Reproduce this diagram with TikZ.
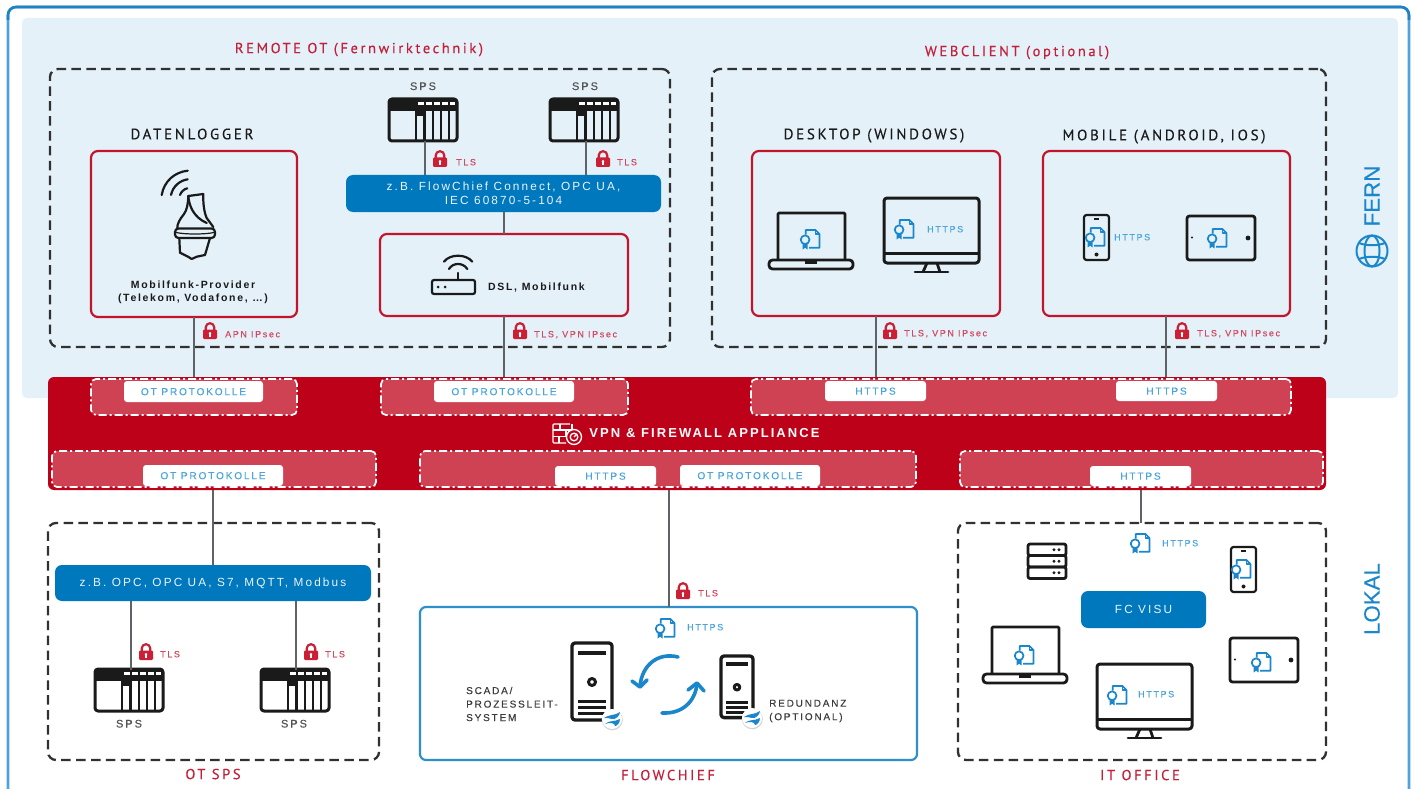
\documentclass[tikz,border=0pt]{standalone}
\usepackage{fontspec}
\setmainfont{Liberation Sans}
\newfontfamily\fsmall{Liberation Sans}[LetterSpace=18,FakeBold=0.3]
\newfontfamily\fplain{Liberation Sans}[LetterSpace=18]
\newfontfamily\fbold{Liberation Sans Bold}[LetterSpace=16]
\newfontfamily\fhdr{PT Sans}[LetterSpace=18,FakeBold=0.3]
\newfontfamily\fside{Liberation Sans}[FakeBold=0.2]
\usetikzlibrary{calc}
\definecolor{panel}{HTML}{E4F1F9}
\definecolor{framec}{HTML}{4FA3DA}
\definecolor{frametop}{HTML}{1F82C4}
\definecolor{flowc}{HTML}{2F8FCB}
\definecolor{bandred}{HTML}{BD0119}
\definecolor{zonered}{HTML}{CE4254}
\definecolor{boxred}{HTML}{C3142C}
\definecolor{titlered}{HTML}{C5203A}
\definecolor{smallred}{HTML}{D4475F}
\definecolor{lockred}{HTML}{CB1F35}
\definecolor{barblue}{HTML}{0078BD}
\definecolor{smallblue}{HTML}{4BA5DC}
\definecolor{certblue}{HTML}{1A86CB}
\definecolor{ink}{HTML}{1A1A1A}
\definecolor{conn}{HTML}{5F6367}
\tikzset{
 x=1pt,y=-1pt,
 box/.style={inner sep=0,outer sep=0,rectangle},
 dashbox/.style={box,draw=ink!90,line width=2.3pt,dash pattern=on 9.5pt off 5.4pt,rounded corners=8pt},
 redbox/.style={box,draw=boxred,line width=2.2pt,rounded corners=7pt},
 flowbox/.style={box,draw=flowc,line width=2.2pt,rounded corners=6pt},
 barbox/.style={box,fill=barblue,rounded corners=7pt},
 zone/.style={box,fill=zonered,draw=white,line width=1.7pt,dash pattern=on 8pt off 3pt on 2pt off 3pt,rounded corners=5pt},
 pill/.style={box,fill=white,rounded corners=3pt},
 connline/.style={draw=conn,line width=1.2pt},
 hdr/.style={font=\fhdr\fontsize{15}{18}\selectfont,text=ink,inner sep=0,text height=10.5pt,text depth=0pt},
 rtitle/.style={font=\fhdr\fontsize{14.5}{17}\selectfont,text=titlered,inner sep=0,text height=10.2pt,text depth=0pt},
 dark/.style={font=\fbold\fontsize{10.5}{13}\selectfont,text=ink,inner sep=0,align=center},
 spslab/.style={font=\fsmall\fontsize{11}{13}\selectfont,text=ink!75,inner sep=0,text height=8pt,text depth=0pt},
 seclab/.style={font=\fsmall\fontsize{10}{13.5}\selectfont,text=ink!85,inner sep=0,align=left,anchor=west},
 barlab/.style={font=\fplain\fontsize{11.8}{14}\selectfont,text=white!92!barblue,inner sep=0,align=center},
 pilllab/.style={font=\fsmall\fontsize{10.1}{12}\selectfont,text=smallblue,inner sep=0,text height=7.3pt,text depth=0pt},
 httpslab/.style={font=\fsmall\fontsize{9}{11}\selectfont,text=smallblue,inner sep=0,anchor=west,text height=6.5pt,text depth=0pt},
 redlab/.style={font=\fsmall\fontsize{9}{11}\selectfont,text=smallred,inner sep=0,anchor=west,text height=6.5pt,text depth=0pt},
 icon/.style={draw=ink,line width=2.8pt,line join=round},
 certline/.style={draw=certblue,line width=1.7pt,line join=round},
 lock/.pic={
  \draw[lockred,line width=2.2pt] (-4.3,-1) -- (-4.3,-3.5) arc[start angle=180,end angle=360,radius=4.3] -- (4.3,-1);
  \fill[lockred,rounded corners=1.2pt] (-7,-1.5) rectangle (7,8);
  \fill[white] (0,2.2) circle[radius=1.4];
  \fill[white] (-.7,2.6) rectangle (.7,5.6);
 },
 cert/.pic={
  \draw[certline] (-5.5,-3) -- (-5.5,-7) -- (3,-7) -- (6.5,-3.5) -- (6.5,8.5) -- (-2.5,8.5);
  \draw[certline] (3,-7) -- (3,-3.5) -- (6.5,-3.5);
  \draw[certline] (-6,1.5) circle[radius=3.8];
  \fill[certblue] (-8.2,4.5) -- (-8.2,10) -- (-6,8.5) -- (-3.8,10) -- (-3.8,4.5) -- cycle;
 },
 spsicon/.pic={
  \fill[ink] (0,0) rectangle (68,12);
  \fill[ink] (27,12) rectangle (35.5,17);
  \foreach \a/\b in {28.5/34.5,36.8/42.5,45.2/50.6,53.2/58.6,61.2/66} \fill[white] (\a,2.6) rectangle (\b,6);
  \foreach \a in {27,35.5,44,52,60} \draw[ink,line width=2.6pt] (\a,11) -- (\a,42);
  \draw[icon,line width=3pt,rounded corners=3pt] (0,0) rectangle (68,42);
 },
 laptop/.pic={
  \draw[icon,rounded corners=1pt] (0,47) -- (0,0) -- (67,0) -- (67,47);
  \draw[icon,rounded corners=3.5pt] (-9,47) rectangle (75,56);
  \fill[ink] (27,47) rectangle (39,50.5);
 },
 monitor/.pic={
  \draw[icon,line width=3pt,rounded corners=3pt] (0,0) rectangle (95,65);
  \draw[icon,line width=3pt] (0,55) -- (95,55);
  \draw[icon] (43,65) -- (39,74);
  \draw[icon] (53,65) -- (56,74);
  \draw[icon,line cap=round,line width=2.8pt] (31,74) -- (64,74);
 },
 phone/.pic={
  \draw[icon,line width=2.2pt,rounded corners=2.5pt] (0,0) rectangle (25,45);
  \draw[ink,line width=1.6pt] (10,3.8) -- (15,3.8);
  \fill[ink] (12.5,39.5) circle[radius=2];
 },
 tablet/.pic={
  \draw[icon,rounded corners=2.5pt] (0,0) rectangle (68,44);
  \fill[ink] (5,21.5) circle[radius=1.1];
  \fill[ink] (61,22) circle[radius=2.4];
 },
 rack/.pic={
  \foreach \r in {0,11.5,23} {
   \draw[icon,rounded corners=2pt] (0,\r) rectangle (38,\r+11.5);
   \fill[ink] (26,\r+5.7) circle[radius=1.6];
   \fill[ink] (31,\r+5.7) circle[radius=1.6];
  }
 },
 tower/.pic={
  \draw[icon,line width=3.3pt,rounded corners=3pt] (0,0) rectangle (40,77);
  \draw[icon,line width=3.1pt] (6,10) -- (34,10);
  \draw[icon,line width=3pt] (20,39) circle[radius=3.5];
  \draw[icon,line width=3pt] (6,58) -- (34,58);
  \draw[icon,line width=3pt] (6,64) -- (34,64);
  \draw[icon,line width=3pt] (6,70) -- (34,70);
 },
 badge/.pic={
  \fill[gray!35] (0.3,0.8) circle[radius=10.5];
  \fill[white] (0,0) circle[radius=10];
  \fill[certblue] (-8,-1) .. controls (-3,-5) and (3,-3) .. (8,-7) .. controls (8,-3) and (3,1) .. (0,0) .. controls (-3,-1) and (-5,-1) .. (-8,-1) -- cycle;
  \fill[certblue] (-7,5) .. controls (-3,1) and (3,3) .. (8,0) .. controls (8,4) and (5,7) .. (3,7) .. controls (3,4) and (-2,3) .. (-7,5) -- cycle;
 },
}
\newcommand{\mybox}[6]{%
 \pgfmathsetmacro{\bw}{#5-#3}\pgfmathsetmacro{\bh}{#6-#4}%
 \pgfmathsetmacro{\bx}{(#3+#5)/2}\pgfmathsetmacro{\by}{(#4+#6)/2}%
 \node[#1,minimum width=\bw pt,minimum height=\bh pt] (#2) at (\bx,\by) {};}
\begin{document}
\begin{tikzpicture}
\useasboundingbox (0,0) rectangle (1414,789);
\fill[white] (0,0) rectangle (1414,789);
% outer frame and panel
\begin{scope}
\clip (0,0) rectangle (1414,789);
\draw[framec,line width=2.6pt,rounded corners=8pt] (8,7) rectangle (1409,830);
\draw[frametop,line width=2.6pt,rounded corners=8pt] (8,20) -- (8,7) -- (1409,7) -- (1409,20);
\end{scope}
\mybox{box,fill=panel,rounded corners=5pt}{fern}{22}{18}{1398}{398}

% dashed regions
\mybox{dashbox}{remote}{50}{69}{670}{347}
\mybox{dashbox}{web}{712}{69}{1326}{347}
\mybox{dashbox}{otsps}{48}{523}{379}{760}
\mybox{dashbox}{office}{958}{523}{1326}{760}

% band
\mybox{box,fill=bandred,rounded corners=6pt}{band}{48}{377}{1326}{490}
\mybox{zone}{z1}{91}{379}{297}{415}
\mybox{zone}{z2}{381}{379}{628}{415}
\mybox{zone}{z3}{751}{379}{1291}{415}
\mybox{zone}{z4}{52}{451}{376}{487}
\mybox{zone}{z5}{420}{451}{916}{487}
\mybox{zone}{z6}{960}{451}{1323}{487}
\mybox{pill}{p1}{124}{381}{263}{402}
\mybox{pill}{p2}{434}{381}{574}{402}
\mybox{pill}{p3}{825}{381}{926}{401}
\mybox{pill}{p4}{1116}{381}{1217}{401}
\mybox{pill}{p5}{143}{465}{283}{486}
\mybox{pill}{p6}{555}{466}{656}{486}
\mybox{pill}{p7}{680}{465}{820}{486}
\mybox{pill}{p8}{1090}{466}{1191}{486}
\node[pilllab] (pt1) at (p1) {OT PROTOKOLLE};
\node[pilllab] (pt2) at (p2) {OT PROTOKOLLE};
\node[pilllab] (pt3) at (p3) {HTTPS};
\node[pilllab] (pt4) at (p4) {HTTPS};
\node[pilllab] (pt5) at (p5) {OT PROTOKOLLE};
\node[pilllab] (pt6) at (p6) {HTTPS};
\node[pilllab] (pt7) at (p7) {OT PROTOKOLLE};
\node[pilllab] (pt8) at (p8) {HTTPS};
\node[font=\fbold\fontsize{13}{15}\selectfont,text=white,inner sep=0,text height=9.3pt,text depth=0pt] (vpn) at (704.5,433) {VPN \& FIREWALL APPLIANCE};
% firewall icon
\begin{scope}[draw=white,line width=1.3pt,rounded corners=1pt]
\draw (570,424) -- (553,424) -- (553,443) -- (566,443);
\draw (553,430) -- (572,430);
\draw (553,436.5) -- (565,436.5);
\draw (560,424) -- (560,430);
\draw (566,430) -- (566,436.5);
\draw (559,436.5) -- (559,443);
\draw (572,424) -- (572,430);
\draw (574,437) circle[radius=7.5];
\draw (574,437) circle[radius=3.8];
\draw (574,437) -- (577,434);
\end{scope}

% red boxes
\mybox{redbox}{dl}{91}{151}{297}{317}
\mybox{redbox}{router}{380}{234}{628}{316}
\mybox{redbox}{desk}{752}{151}{1000}{316}
\mybox{redbox}{mob}{1043}{151}{1290}{316}
\mybox{flowbox}{fc}{420}{607}{917}{760}
% blue bars
\mybox{barbox}{bar1}{346}{175}{661}{212}
\mybox{barbox}{bar2}{55}{565}{371}{601}
\mybox{barbox}{bar3}{1081}{591}{1206}{628}
\node[barlab] (bt1) at (bar1) {z.B. FlowChief Connect, OPC UA,\\IEC 60870-5-104};
\node[barlab] (bt2) at (bar2) {z.B. OPC, OPC UA, S7, MQTT, Modbus};
\node[barlab] (bt3) at (bar3) {FC VISU};

% SPS icons
\pic (s1) at (389,99) {spsicon};
\pic (s2) at (550,99) {spsicon};
\pic (s3) at (95,669) {spsicon};
\pic (s4) at (261,669) {spsicon};
\coordinate (s1p) at (425,141);
\coordinate (s2p) at (586,141);
\coordinate (s3p) at (131,670);
\coordinate (s4p) at (296,670);
\coordinate (b1) at (194,377);
\coordinate (b2) at (504,377);
\coordinate (b3) at (876,377);
\coordinate (b4) at (1166,377);
\coordinate (b5) at (213,490);
\coordinate (b6) at (669,490);
\coordinate (b7) at (1141,490);
% connectors
\draw[connline] (dl.south -| b1) -- (b1);
\draw[connline] (router.south -| b2) -- (b2);
\draw[connline] (desk.south -| b3) -- (b3);
\draw[connline] (mob.south -| b4) -- (b4);
\draw[connline] (s1p) -- (bar1.north -| s1p);
\draw[connline] (s2p) -- (bar1.north -| s2p);
\draw[connline] (bar1.south -| b2) -- (router.north -| b2);
\draw[connline] (b5) -- (bar2.north -| b5);
\draw[connline] (bar2.south -| s3p) -- (s3p);
\draw[connline] (bar2.south -| s4p) -- (s4p);
\draw[connline] (b6) -- (fc.north -| b6);
\draw[connline] (b7) -- (office.north -| b7);

% titles
\node[rtitle] (t1) at (359,48) {REMOTE OT (Fernwirktechnik)};
\node[rtitle] (t2) at (1017,51) {WEBCLIENT (optional)};
\node[rtitle] (t3) at (213,774) {OT SPS};
\node[rtitle] (t4) at (668,775) {FLOWCHIEF};
\node[rtitle] (t5) at (1140,775) {IT OFFICE};
\node[hdr] (h1) at (192,134) {DATENLOGGER};
\node[hdr] (h2) at (874,134) {DESKTOP (WINDOWS)};
\node[hdr] (h3) at (1164,135) {MOBILE (ANDROID, IOS)};
\node[spslab] (l1) at (423,86) {SPS};
\node[spslab] (l2) at (585,86) {SPS};
\node[spslab] (l3) at (129,723.5) {SPS};
\node[spslab] (l4) at (294,723.5) {SPS};
\node[dark] (dt) at (193,292) {Mobilfunk-Provider\\(Telekom, Vodafone, …)};
\node[dark,anchor=west,text height=7.5pt,text depth=0pt] (dsl) at (488,287) {DSL, Mobilfunk};
\node[seclab] (sc) at (466,704) {SCADA/\\PROZESSLEIT-\\SYSTEM};
\node[seclab] (re) at (769,711) {REDUNDANZ\\(OPTIONAL)};
\node[font=\fside\fontsize{22.3}{24}\selectfont,text=certblue,rotate=90,inner sep=0] (fern2) at (1372,196) {FERN};
\node[font=\fside\fontsize{22.3}{24}\selectfont,text=certblue,rotate=90,inner sep=0] (lokal) at (1372,599) {LOKAL};
% globe
\begin{scope}[draw=certblue,line width=2pt]
\draw (1372,251) circle[radius=15.5];
\draw (1372,251) ellipse[x radius=7.5,y radius=15.5];
\draw (1359,243) .. controls (1366,246) and (1378,246) .. (1385,243);
\draw (1359,259) .. controls (1366,256) and (1378,256) .. (1385,259);
\end{scope}

% locks and labels
\foreach \n/\x/\y in {a/210/331,b/440/159,c/603/159,d/520/331,e/890/331,f/1182/331,g/146/652,h/311/652,i/683/591}
 \pic (lk\n) at (\x,\y) {lock};
\node[redlab] (r1) at (225,334) {APN IPsec};
\node[redlab] (r2) at (456,162) {TLS};
\node[redlab] (r3) at (617,162) {TLS};
\node[redlab] (r4) at (534,334) {TLS, VPN IPsec};
\node[redlab] (r5) at (904,333) {TLS, VPN IPsec};
\node[redlab] (r6) at (1197,333) {TLS, VPN IPsec};
\node[redlab] (r7) at (160,654) {TLS};
\node[redlab] (r8) at (325,654) {TLS};
\node[redlab] (r9) at (698,593) {TLS};

% device icons
\pic (lap1) at (778,213) {laptop};
\pic (mon1) at (884,198) {monitor};
\pic (ph1) at (1084,215) {phone};
\pic (tb1) at (1187,216) {tablet};
\pic (rk) at (1028,544) {rack};
\pic (ph2) at (1231,547) {phone};
\pic (lap2) at (992,627) {laptop};
\pic (mon2) at (1097,664) {monitor};
\pic (tb2) at (1230,638) {tablet};
\foreach \n/\x/\y in {a/812/238,b/906/228,c/1097/236,d/1219/237,e/667/627,f/1142/542,g/1243/568,h/1026/654,i/1119/694,j/1263/661}
 \pic[scale=1.15] (ce\n) at (\x,\y) {cert};
\node[httpslab] (w1) at (927,229) {HTTPS};
\node[httpslab] (w2) at (1114,237) {HTTPS};
\node[httpslab] (w3) at (687,627) {HTTPS};
\node[httpslab] (w4) at (1162,543) {HTTPS};
\node[httpslab] (w5) at (1138,694) {HTTPS};

% towers
\pic (tw1) at (572,643) {tower};
\pic[scale=.8] (tw2) at (721,656) {tower};
\pic (bd1) at (612,719) {badge};
\pic (bd2) at (752,718) {badge};
\begin{scope}[draw=certblue,line width=3.6pt,line cap=round,line join=round]
\draw (678,657) .. controls (658,652) and (642,665) .. (640,686);
\draw (632,681) -- (640,687) -- (647,680);
\draw (662,713) .. controls (682,714) and (695,702) .. (697,684);
\draw (688,690) -- (697,683) -- (704,691);
\end{scope}

% antenna
\begin{scope}[draw=ink,line width=2.2pt,line join=round,line cap=round]
\draw (188.3,196) .. controls (188,204) and (187,210) .. (184,214) .. controls (180,219) and (177,224) .. (177.3,228);
\draw (188.3,196) -- (203.3,194) .. controls (203,203) and (204,212) .. (206.7,218) -- (213.3,227);
\draw (188.3,196) .. controls (189,205) and (193,217) .. (206.7,223);
\draw[rounded corners=3.5pt] (175,228.5) rectangle (215,238);
\draw[line width=1.2pt] (176,232.5) .. controls (185,234.5) and (205,234.5) .. (214,232.5);
\draw (179.3,238) -- (180,252.7) -- (188,256.7) -- (191.7,259) -- (196.7,256.7) -- (205,255) -- (210,238);
\draw (161.7,195) .. controls (164,181) and (175,172) .. (187.7,170.7);
\draw (171,195) .. controls (173,186) and (180,180.5) .. (187.7,179.3);
\draw (180,195) .. controls (181,192) and (184,189) .. (187.3,188.3);
\end{scope}
% router
\begin{scope}[draw=ink,line width=2.2pt,line cap=round]
\draw[rounded corners=2pt] (432,280) rectangle (475,294);
\draw (458,273) -- (458,280);
\fill[ink] (438,287) circle[radius=1.5];
\fill[ink] (445,287) circle[radius=1.5];
\draw (444,261.7) .. controls (450,253.7) and (466,253.7) .. (472.3,261.7);
\draw (449,269) .. controls (453,262.3) and (463,262.3) .. (467.3,269);
\end{scope}
\end{tikzpicture}
\end{document}
